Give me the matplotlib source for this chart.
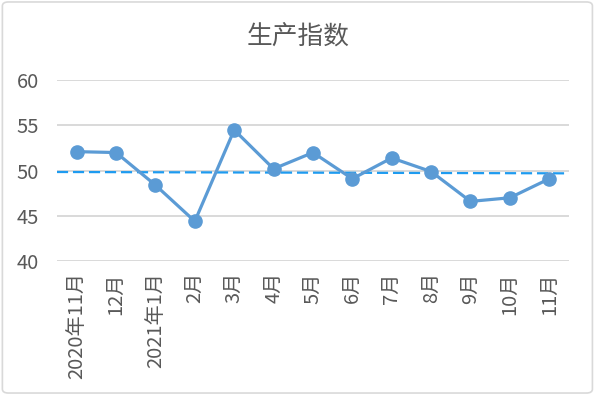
import matplotlib.pyplot as plt
from matplotlib.patches import FancyBboxPatch

plt.rcParams['font.family'] = ['Noto Sans CJK SC', 'DejaVu Sans']

# data
months = ['2020年11月', '12月', '2021年1月', '2月', '3月', '4月', '5月',
          '6月', '7月', '8月', '9月', '10月', '11月']
values = [52.1, 52.0, 48.4, 44.4, 54.5, 50.2, 52.0, 49.1, 51.4, 49.9, 46.6, 47.0, 49.1]
ref_line = [49.85, 49.7]
yticks = [40, 45, 50, 55, 60]

grey = '#595959'

fig = plt.figure(figsize=(5.96, 3.95), dpi=100)
ax = fig.add_axes([0.0956, 0.339, 0.859, 0.458])

# frame around the chart
fig.patches.append(FancyBboxPatch((0.004, 0.005), 0.99, 0.99, boxstyle='round,pad=0,rounding_size=0.01',
                                  transform=fig.transFigure, fill=False, edgecolor='#D9D9D9', lw=1.2))

x = range(len(months))
ax.plot(x, values, color='#5B9BD5', lw=2.3, marker='o', markersize=9.5, zorder=3)
ax.plot([-0.5, len(months) - 0.5], ref_line, color='#1E9BF0', lw=1.6, ls=(0, (5, 2.2)), zorder=2)

ax.set_xlim(-0.5, len(months) - 0.5)
ax.set_ylim(40, 60)
ax.set_yticks(yticks)
ax.set_xticks(list(x))
ax.set_xticklabels(months, rotation=90, fontsize=14.5, color=grey)
ax.tick_params(axis='y', labelsize=14.5, colors=grey, length=0, pad=13)
ax.tick_params(axis='x', length=0, pad=8)
ax.grid(True, axis='y', color='#D9D9D9', lw=1.4)
ax.set_axisbelow(True)
for spine in ax.spines.values():
    spine.set_visible(False)

fig.text(0.5, 0.905, '生产指数', ha='center', va='center', fontsize=18.5, color=grey)

fig.savefig('out.png', dpi=100)
